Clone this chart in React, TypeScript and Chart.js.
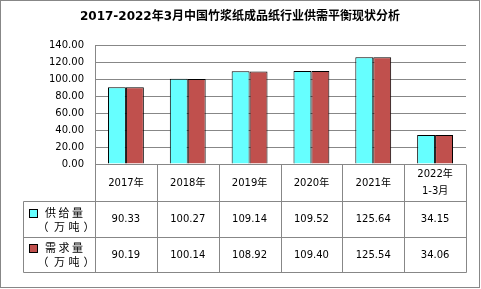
import React, { useEffect, useRef } from "react";
import { Chart, registerables } from "chart.js";

Chart.register(...registerables);

const TITLE = "2017-2022年3月中国竹浆纸成品纸行业供需平衡现状分析";
const CATEGORIES: string[][] = [["2017年"], ["2018年"], ["2019年"], ["2020年"], ["2021年"], ["2022年", "1-3月"]];
const SUPPLY = [90.33, 100.27, 109.14, 109.52, 125.64, 34.15];
const DEMAND = [90.19, 100.14, 108.92, 109.4, 125.54, 34.06];
const SERIES_NAMES = [["供给量", "（万吨）"], ["需求量", "（万吨）"]];
const COLORS = ["#66ffff", "#c0504d"];
const GRID = "#878787";
const FONT = "'DejaVu Sans', 'Noto Sans CJK SC', sans-serif";
const CJK = "'Noto Sans CJK SC', sans-serif";

const tablePlugin = {
  id: "tablePlugin",
  afterDraw(chart: any) {
    const ctx = chart.ctx as CanvasRenderingContext2D;
    const area = chart.chartArea;
    const x = chart.scales.x;
    const n = CATEGORIES.length;
    const cw = (area.right - area.left) / n;
    const top = Math.round(area.bottom) + 0.5;
    const r1 = top + 37;
    const r2 = r1 + 36;
    const r3 = r2 + 35;
    const legL = 23.5;
    ctx.save();
    ctx.strokeStyle = GRID;
    ctx.lineWidth = 1;
    ctx.beginPath();
    ctx.moveTo(area.left, top); ctx.lineTo(area.right, top);
    [r1, r2, r3].forEach((y) => { ctx.moveTo(legL, y); ctx.lineTo(Math.round(area.right) + 0.5, y); });
    ctx.moveTo(legL, r1); ctx.lineTo(legL, r3);
    for (let i = 0; i <= n; i++) {
      const xv = Math.round(area.left + i * cw) + 0.5;
      ctx.moveTo(xv, top); ctx.lineTo(xv, r3);
    }
    ctx.stroke();

    ctx.strokeRect(0.5, 0.5, 479, 287);

    ctx.fillStyle = "#000";
    ctx.textAlign = "center";
    ctx.textBaseline = "middle";
    ctx.font = `10px ${FONT}`;
    CATEGORIES.forEach((lines, i) => {
      const cx = x.getPixelForValue(i);
      const cy = (top + r1) / 2;
      if (lines.length === 1) {
        ctx.fillText(lines[0], cx, cy);
      } else {
        ctx.fillText(lines[0], cx, cy - 8.5);
        ctx.fillText(lines[1], cx, cy + 8);
      }
    });
    const rows = [SUPPLY, DEMAND];
    const rowTops = [r1, r2];
    const rowBots = [r2, r3];
    rows.forEach((vals, ri) => {
      const cy = (rowTops[ri] + rowBots[ri]) / 2;
      vals.forEach((v, i) => {
        ctx.fillText(v.toFixed(2), x.getPixelForValue(i), cy);
      });
      const sy = Math.round(cy - 11) + 0.5;
      ctx.fillStyle = COLORS[ri];
      ctx.fillRect(29.5, sy, 8, 8);
      ctx.strokeStyle = "#000";
      ctx.strokeRect(29.5, sy, 8, 8);
      ctx.fillStyle = "#000";
      ctx.font = `11px ${CJK}`;
      ctx.textAlign = "center";
      const name = SERIES_NAMES[ri][0];
      [...name].forEach((ch, k) => ctx.fillText(ch, 50.5 + k * 13.5, cy - 7));
      const unitX = [43, 59.5, 74, 89];
      [...SERIES_NAMES[ri][1]].forEach((ch, k) => ctx.fillText(ch, unitX[k], cy + 7));
      ctx.font = `10px ${FONT}`;
    });

    ctx.font = `bold 12px 'DejaVu Sans', 'Noto Sans CJK SC', sans-serif`;
    ctx.fillText(TITLE, 240, 17);
    ctx.restore();
  },
};

export default function App() {
  const ref = useRef<HTMLCanvasElement>(null);
  useEffect(() => {
    document.body.style.margin = "0";
    const chart = new Chart(ref.current!, {
      type: "bar",
      data: {
        labels: CATEGORIES.map((c) => c.join(" ")),
        datasets: [
          { label: SERIES_NAMES[0].join(""), data: SUPPLY, backgroundColor: COLORS[0], borderColor: "#000", borderWidth: 1 },
          { label: SERIES_NAMES[1].join(""), data: DEMAND, backgroundColor: COLORS[1], borderColor: "#000", borderWidth: 1 },
        ],
      },
      options: {
        animation: false,
        responsive: false,
        devicePixelRatio: 1,
        layout: { padding: { left: 0, right: 15, top: 45, bottom: 125 } },
        plugins: { legend: { display: false }, title: { display: false }, tooltip: { enabled: false } },
        datasets: { bar: { categoryPercentage: 0.58, barPercentage: 1 } },
        scales: {
          x: { display: false },
          y: {
            min: 0,
            max: 140,
            afterFit: (s: any) => { s.width = 95; },
            ticks: {
              stepSize: 20,
              color: "#000",
              font: { family: FONT, size: 10 },
              padding: 11,
              callback: (v: any) => Number(v).toFixed(2),
            },
            grid: { color: GRID, drawTicks: false },
            border: { color: GRID },
          },
        },
      },
      plugins: [tablePlugin],
    });
    return () => chart.destroy();
  }, []);
  return <canvas ref={ref} width={481} height={289} style={{ display: "block" }} />;
}
